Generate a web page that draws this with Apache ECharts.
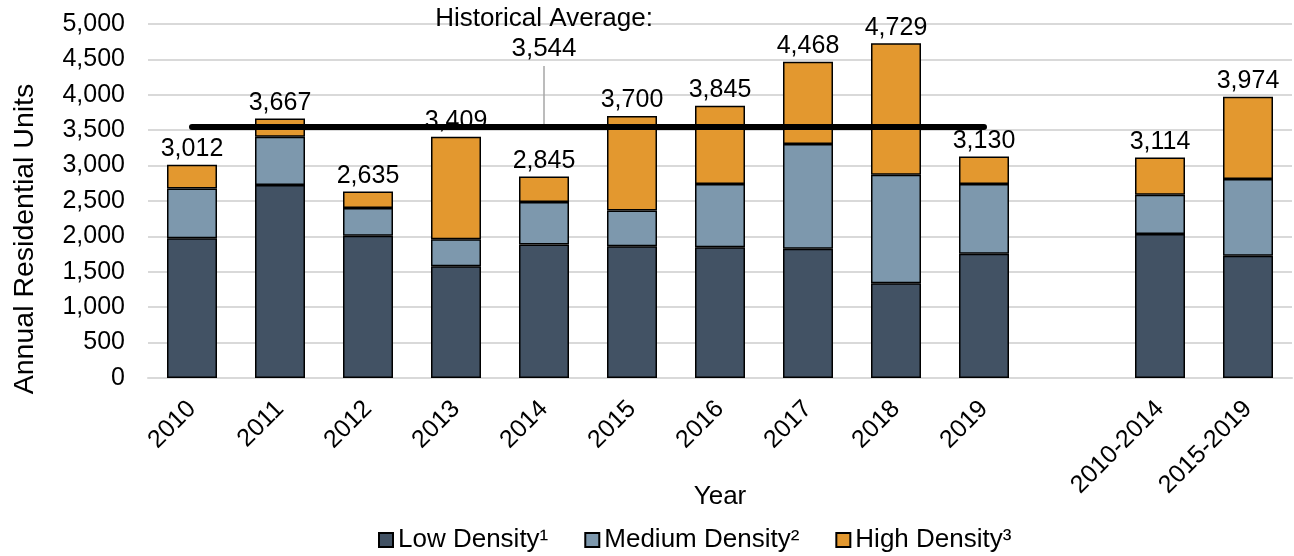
<!DOCTYPE html>
<html>
<head>
<meta charset="utf-8">
<script src="https://cdn.jsdelivr.net/npm/echarts@6/dist/echarts.min.js"></script>
<style>html,body{margin:0;padding:0;background:#fff;}#c{width:1294px;height:556px;}</style>
</head>
<body>
<div id="c"></div>
<script>
const categories = ['2010','2011','2012','2013','2014','2015','2016','2017','2018','2019','','2010-2014','2015-2019'];
const lowDensity    = [1975, 2725, 2010, 1580, 1885, 1860, 1845, 1825, 1340, 1755, null, 2035, 1725];
const mediumDensity = [ 700,  683,  390,  380,  600,  505,  895, 1480, 1530,  985, null,  555, 1085];
const highDensity   = [ 337,  259,  235, 1449,  360, 1335, 1105, 1163, 1859,  390, null,  524, 1164];
const totals        = [3012, 3667, 2635, 3409, 2845, 3700, 3845, 4468, 4729, 3130, null, 3114, 3974];
const historicalAverage = 3544;
const avgLine = [3544, 3544, 3544, 3544, 3544, 3544, 3544, 3544, 3544, 3544, null, null, null];
const annotationTop = 4407;
const yTicks = { min: 0, max: 5000, interval: 500 };

const FONT = "'Liberation Sans', Arial, sans-serif";
const fmt = v => v == null ? '' : v.toLocaleString('en-US');
const border = { borderColor: '#000', borderWidth: 1.5 };

const chart = echarts.init(document.getElementById('c'), null, { renderer: 'canvas' });
chart.setOption({
  animation: false,
  textStyle: { fontFamily: FONT, color: '#000' },
  grid: { left: 148, right: 2, top: 24, bottom: 178, containLabel: false },
  legend: {
    bottom: -2, left: 373, icon: 'rect',
    itemWidth: 14, itemHeight: 14, itemGap: 36,
    textStyle: { fontFamily: FONT, fontSize: 26, color: '#000' },
    data: ['Low Density¹', 'Medium Density²', 'High Density³']
  },
  xAxis: {
    type: 'category', data: categories,
    axisTick: { show: false },
    axisLine: { show: true, lineStyle: { color: '#d9d9d9', width: 2 } },
    axisLabel: { rotate: 45, fontSize: 25, color: '#000', margin: 27, interval: 0, fontFamily: FONT },
    name: 'Year', nameLocation: 'middle', nameGap: 106, nameMoveOverlap: false,
    nameTextStyle: { fontSize: 26, color: '#000', fontFamily: FONT }
  },
  yAxis: {
    type: 'value', min: yTicks.min, max: yTicks.max, interval: yTicks.interval,
    axisLine: { show: false }, axisTick: { show: false },
    axisLabel: { fontSize: 25, color: '#000', margin: 23, fontFamily: FONT, formatter: v => fmt(v) },
    splitLine: { lineStyle: { color: '#d9d9d9', width: 2 } }
  },
  graphic: [{
    type: 'text', x: 25, y: 239, rotation: Math.PI / 2,
    style: { text: 'Annual Residential Units', fontSize: 28.5, fontFamily: FONT, fill: '#000', textAlign: 'center', textVerticalAlign: 'middle' }
  }],
  series: [
    { name: 'Low Density¹', type: 'bar', stack: 'a', data: lowDensity, barWidth: 50,
      itemStyle: Object.assign({ color: '#425264' }, border) },
    { name: 'Medium Density²', type: 'bar', stack: 'a', data: mediumDensity,
      itemStyle: Object.assign({ color: '#7d98ad' }, border) },
    { name: 'High Density³', type: 'bar', stack: 'a', data: highDensity,
      itemStyle: Object.assign({ color: '#e3982f' }, border),
      label: { show: true, position: 'top', distance: 3, fontSize: 25, color: '#000', fontFamily: FONT,
        formatter: p => fmt(totals[p.dataIndex]) } },
    { name: 'Historical Average', type: 'line', data: avgLine, symbol: 'none', z: 10,
      lineStyle: { color: '#000', width: 6, cap: 'round' },
      markLine: {
        silent: true, symbol: ['none', 'none'],
        lineStyle: { color: '#a6a6a6', width: 1.5, type: 'solid' },
        label: { show: true, position: 'end', distance: 2, fontSize: 26, lineHeight: 30, color: '#000', fontFamily: FONT,
          formatter: 'Historical Average:\n' + fmt(historicalAverage) },
        data: [[{ coord: ['2014', historicalAverage] }, { coord: ['2014', annotationTop] }]]
      }
    }
  ]
});
</script>
</body>
</html>
